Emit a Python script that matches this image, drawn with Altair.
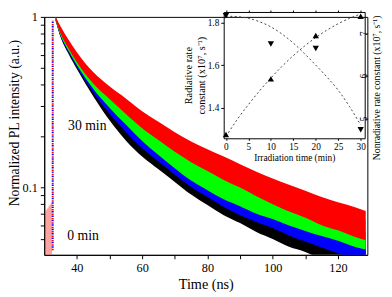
import altair as alt
import pandas as pd

FONT = "Liberation Serif"

# ---------------- main decay data (band edges) ----------
times = [33.5, 35, 37.5, 40, 45, 50, 55, 60, 65, 70, 75, 80, 85, 90, 95, 100,
         105, 110, 115, 120, 125, 128.5]

red_hi = [1.0, 0.882, 0.731, 0.621, 0.475, 0.392, 0.333, 0.28, 0.243, 0.211, 0.186,
          0.168, 0.152, 0.137, 0.124, 0.113, 0.104, 0.096, 0.088, 0.082, 0.077, 0.073]
red_lo = [0.95, 0.80, 0.651, 0.542, 0.407, 0.33, 0.27, 0.223, 0.19, 0.162, 0.141,
          0.125, 0.111, 0.10, 0.089, 0.08, 0.0725, 0.0667, 0.0603, 0.0562, 0.0516, 0.0492]

green_hi = [1.0, 0.861, 0.71, 0.599, 0.443, 0.349, 0.289, 0.235, 0.198, 0.169, 0.146,
            0.13, 0.117, 0.106, 0.098, 0.093, 0.086, 0.080, 0.076, 0.071, 0.067, 0.065]
green_lo = [0.95, 0.781, 0.632, 0.523, 0.38, 0.294, 0.234, 0.1875, 0.155, 0.13, 0.11,
            0.0966, 0.0855, 0.0778, 0.0703, 0.0655, 0.06, 0.0558, 0.052, 0.0488, 0.0451, 0.0434]

blue_hi = [1.0, 0.85, 0.694, 0.583, 0.421, 0.322, 0.261, 0.213, 0.181, 0.155, 0.133,
           0.118, 0.105, 0.095, 0.087, 0.082, 0.076, 0.07, 0.065, 0.061, 0.057, 0.055]
blue_lo = [0.95, 0.771, 0.618, 0.509, 0.361, 0.271, 0.212, 0.17, 0.142, 0.119, 0.101,
           0.088, 0.077, 0.069, 0.063, 0.058, 0.0525, 0.0483, 0.0446, 0.0413, 0.0385, 0.0369]

black_hi = [1.0, 0.84, 0.678, 0.567, 0.40, 0.294, 0.233, 0.19, 0.164, 0.14, 0.121,
            0.107, 0.095, 0.084, 0.077, 0.070, 0.065, 0.06, 0.056, 0.052, 0.05, 0.049]
black_lo = [0.95, 0.762, 0.604, 0.495, 0.343, 0.248, 0.189, 0.152, 0.128, 0.108, 0.091,
            0.079, 0.069, 0.062, 0.055, 0.050, 0.045, 0.042, 0.038, 0.0355, 0.0336, 0.0328]

# rising edge (sparse column of points) and pre-pulse background
rise_t = [32.6]
rise_lo = [0.043]
rise_hi = [0.95]
pre_t = [30.2, 32.4]
pre_lo = [0.0404, 0.0404]
pre_hi = [0.072, 0.082]

label_text = ["30 min", "0 min"]
label_t = [43.2, 41.9]
label_v = [0.23, 0.052]

# ---------------- inset data ---------------------------------------------------
irr_min = [0, 10, 20, 30]
rad_k = [1.275, 1.536, 1.74, 1.83]
nonrad_k = [7.41, 6.75, 6.64, 4.73]

fit_min = [0, 2.5, 5, 7.5, 10, 12.5, 15, 17.5, 20, 22.5, 25, 27.5, 30]
rad_fit = [1.265, 1.345, 1.415, 1.48, 1.54, 1.595, 1.645, 1.69, 1.73, 1.765, 1.795, 1.82, 1.84]
nonrad_fit = [7.40, 7.39, 7.35, 7.27, 7.15, 6.98, 6.77, 6.52, 6.25, 5.97, 5.66, 5.28, 4.84]

# ---------------- main chart ---------------------------------------------------
xs = alt.Scale(domain=[30, 129], nice=False, zero=False)
ys = alt.Scale(type="log", domain=[0.0404, 1.0], nice=False)

xaxis = alt.Axis(orient="bottom", values=[40, 50, 60, 70, 80, 90, 100, 110, 120],
                 labelExpr="datum.value % 20 == 0 ? datum.label : ''",
                 title="Time (ns)", labelFontSize=12.5, titleFontSize=14.5,
                 tickSize=4, labelPadding=3, titlePadding=4, grid=False)
yaxis = alt.Axis(orient="left",
                 values=[0.05, 0.06, 0.07, 0.08, 0.09, 0.1, 0.2, 0.3, 0.4, 0.5,
                         0.6, 0.7, 0.8, 0.9, 1.0],
                 labelExpr="(datum.value == 1 || datum.value == 0.1) ? datum.label : ''",
                 format="g", title="Normalized PL intensity (a.u.)",
                 labelFontSize=12.5, titleFontSize=14, tickSize=4,
                 labelPadding=3, titlePadding=1, titleY=108, grid=False)


def band(lo, hi, color):
    df = pd.DataFrame({"t": times, "lo": lo, "hi": hi})
    return alt.Chart(df).mark_area(color=color, clip=True, interpolate="monotone").encode(
        x=alt.X("t:Q", scale=xs, axis=xaxis),
        y=alt.Y("lo:Q", scale=ys, axis=yaxis),
        y2="hi:Q",
    )


pre = alt.Chart(pd.DataFrame({"t": pre_t, "lo": pre_lo, "hi": pre_hi})).mark_area(
    color="#ff3030", opacity=0.45, clip=True).encode(
    x=alt.X("t:Q", scale=xs, axis=xaxis),
    y=alt.Y("lo:Q", scale=ys, axis=yaxis), y2="hi:Q")

rise_df = pd.DataFrame({"t": rise_t, "lo": rise_lo, "hi": rise_hi})
rise_r = alt.Chart(rise_df).mark_rule(color="red", strokeWidth=2, strokeDash=[1.5, 3]).encode(
    x=alt.X("t:Q", scale=xs, axis=xaxis),
    y=alt.Y("lo:Q", scale=ys, axis=yaxis), y2="hi:Q")
rise_b = alt.Chart(rise_df).mark_rule(color="blue", strokeWidth=2, strokeDash=[1.5, 3],
                                      strokeDashOffset=2).encode(
    x=alt.X("t:Q", scale=xs, axis=xaxis),
    y=alt.Y("lo:Q", scale=ys, axis=yaxis), y2="hi:Q")

labels = alt.Chart(pd.DataFrame({"text": label_text, "t": label_t, "v": label_v})).mark_text(
    font=FONT, fontSize=14, color="black", align="center", baseline="middle").encode(
    x=alt.X("t:Q", scale=xs, axis=xaxis),
    y=alt.Y("v:Q", scale=ys, axis=yaxis),
    text="text:N")

main = alt.layer(
    pre,
    band(black_lo, black_hi, "black"),
    band(blue_lo, blue_hi, "#0000ff"),
    band(green_lo, green_hi, "#00ff00"),
    band(red_lo, red_hi, "#ff0000"),
    rise_b, rise_r, labels,
)

# ---------------- inset --------------------------------------------------------
ixs = alt.Scale(domain=[-0.5, 30.9], range=[183.3, 327.3], nice=False, zero=False)
rads = alt.Scale(domain=[1.257, 1.85], range=[124, -5], nice=False, zero=False)
nrads = alt.Scale(domain=[4.53, 7.5], range=[124, -5], nice=False, zero=False)

ix_axis = alt.Axis(orient="bottom", offset=-119, values=[0, 5, 10, 15, 20, 25, 30],
                   format="d", title="Irradiation time (min)", labelFontSize=9.5,
                   titleFontSize=9.5, tickSize=2, labelPadding=1, titlePadding=2, grid=False)
ix_top = alt.Axis(orient="top", offset=5, values=[0, 5, 10, 15, 20, 25, 30],
                  labels=False, title="", tickSize=2, grid=False)
rad_axis = alt.Axis(orient="left", offset=-183.3, values=[1.4, 1.6, 1.8], format=".1f",
                    title=["Radiative rate", "constant (x10⁷, s⁻¹)"],
                    labelFontSize=9.5, titleFontSize=10.5, tickSize=3,
                    labelPadding=2, titlePadding=1, grid=False)
nrad_axis = alt.Axis(orient="right", offset=-2.7, values=[5, 6, 7], format="d",
                     labelAngle=270, labelAlign="center", labelBaseline="bottom",
                     titleAngle=270, titleY=72, titleX=17, titleBaseline="bottom",
                     title="Nonradiative rate constant (x10⁷, s⁻¹)",
                     labelFontSize=9.5, titleFontSize=10, tickSize=3,
                     labelPadding=1, grid=False)

rad_pts = pd.DataFrame({"m": irr_min, "k": rad_k})
rad_fit_df = pd.DataFrame({"m": fit_min, "k": rad_fit})
nrad_pts = pd.DataFrame({"m": irr_min, "k": nonrad_k})
nrad_fit_df = pd.DataFrame({"m": fit_min, "k": nonrad_fit})

rad_layer = alt.layer(
    alt.Chart(rad_fit_df).mark_line(color="#444444", strokeWidth=1, strokeDash=[2, 2.5],
                                    interpolate="monotone").encode(
        x=alt.X("m:Q", scale=ixs, axis=ix_axis),
        y=alt.Y("k:Q", scale=rads, axis=rad_axis)),
    alt.Chart(rad_pts).mark_point(shape="triangle-up", filled=True, color="black",
                                  size=42, opacity=1).encode(
        x=alt.X("m:Q", scale=ixs, axis=ix_axis),
        y=alt.Y("k:Q", scale=rads, axis=rad_axis)),
)

nrad_layer = alt.layer(
    alt.Chart(nrad_fit_df).mark_line(color="#444444", strokeWidth=1, strokeDash=[2, 2.5],
                                     interpolate="monotone").encode(
        x=alt.X("m:Q", scale=ixs, axis=ix_top),
        y=alt.Y("k:Q", scale=nrads, axis=nrad_axis)),
    alt.Chart(nrad_pts).mark_point(shape="triangle-down", filled=True, color="black",
                                   size=42, opacity=1).encode(
        x=alt.X("m:Q", scale=ixs, axis=ix_top),
        y=alt.Y("k:Q", scale=nrads, axis=nrad_axis)),
)

chart = alt.layer(main, rad_layer, nrad_layer).resolve_scale(
    x="independent", y="independent"
).properties(
    width=330, height=243,
    padding={"left": 37, "top": 6, "right": 17, "bottom": 40},
    autosize=alt.AutoSizeParams(type="none"),
).configure_view(
    stroke="black", strokeWidth=1
).configure_axis(
    labelFont=FONT, titleFont=FONT, labelColor="black", titleColor="black",
    domainColor="black", tickColor="black", titleFontWeight="normal", grid=False
).configure_text(font=FONT)

chart.save("out.html", embed_options={"renderer": "svg", "actions": False})
